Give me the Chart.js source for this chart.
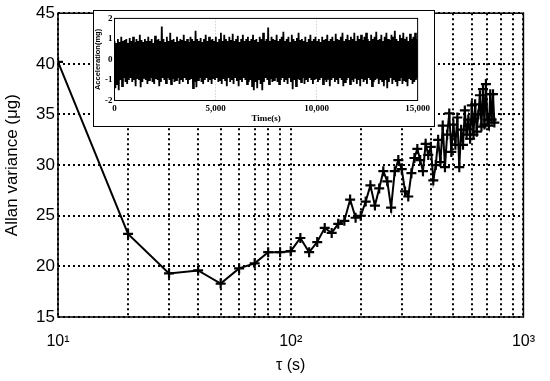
<!DOCTYPE html>
<html>
<head>
<meta charset="utf-8">
<script src="https://cdn.jsdelivr.net/npm/chart.js@4.4.0/dist/chart.umd.min.js"></script>
<style>
    html, body { margin: 0; padding: 0; background: #fff; }
    #wrap { position: relative; width: 550px; height: 381px; }
    #main { position: absolute; left: 0; top: 0; }
    #inset { position: absolute; left: 93px; top: 10px; width: 342px; height: 117px; background: #fff; border: 1.5px solid #000; box-sizing: border-box; }
    #insetChart { position: absolute; left: 0; top: 0; }
</style>
</head>
<body>
<div id="wrap">
    <canvas id="main" width="550" height="381"></canvas>
    <div id="inset"><canvas id="insetChart" width="339" height="114"></canvas></div>
</div>
<script>
// ---- datos principales (Allan variance) ----
const tau = [10, 20, 30, 40, 50, 60, 70, 80, 90, 100,
    110, 120, 130, 140, 150, 160, 170, 180, 190, 200,
    210, 220, 230, 240, 250, 260, 270, 280, 290, 300,
    310, 320, 330, 340, 350, 360, 370, 380, 390, 400,
    410, 420, 430, 440, 450, 460, 470, 480, 490, 500,
    510, 520, 530, 540, 550, 560, 570, 580, 590, 600,
    610, 620, 630, 640, 650, 660, 670, 680, 690, 700,
    710, 720, 730, 740, 750];
const allan = [40.2, 23.2, 19.3, 19.6, 18.3, 19.8, 20.3, 21.4, 21.4, 21.5,
    22.8, 21.4, 22.4, 23.8, 23.3, 24.2, 24.5, 26.6, 24.8, 25.0,
    26.4, 28.0, 26.0, 27.7, 29.4, 28.4, 25.8, 29.4, 30.5, 29.6,
    27.4, 26.9, 29.2, 30.7, 31.6, 30.5, 29.4, 32.1, 31.0, 31.8,
    28.5, 30.0, 32.5, 30.3, 33.9, 29.8, 33.0, 35.1, 31.3, 34.0,
    32.0, 34.7, 29.8, 33.5, 32.0, 35.4, 33.0, 34.5, 32.6, 35.9,
    33.0, 36.0, 33.3, 35.0, 36.9, 33.8, 37.5, 34.0, 38.0, 34.5,
    33.9, 37.0, 34.5, 37.0, 34.2];
const xTicks = [10, 20, 30, 40, 50, 60, 70, 80, 90, 100, 200, 300, 400, 500, 600, 700, 800, 900, 1000];
const xTickLabels = { 10: '10¹', 100: '10²', 1000: '10³' };
const yTicks = [15, 20, 25, 30, 35, 40, 45];

// ---- datos del recuadro (señal de aceleración, picos y valles) ----
const accelPeaks = [
    0.9, 0.8, 1.0, 0.85, 1.1, 0.9, 0.95, 1.0, 0.8, 1.05, 0.9, 1.1, 0.85, 1.0, 0.9, 1.2, 0.95, 0.85, 1.0, 0.9,
    1.1, 0.9, 1.0, 0.8, 1.15, 0.95, 1.0, 0.9, 1.6, 1.0, 0.85, 1.1, 0.9, 1.3, 0.95, 1.0, 0.85, 1.1, 0.9, 1.0,
    0.95, 1.2, 0.9, 1.0, 0.85, 1.1, 1.0, 0.9, 1.4, 1.0, 0.9, 1.05, 0.85, 1.0, 1.2, 0.9, 1.1, 0.95, 1.0, 0.9,
    1.1, 0.85, 1.0, 1.3, 0.9, 1.2, 1.0, 0.9, 1.1, 0.95, 1.25, 0.9, 1.0, 1.15, 0.85, 1.0, 1.2, 0.9, 1.0, 1.1,
    0.9, 1.0, 1.2, 0.95, 1.0, 0.85, 1.1, 1.0, 1.3, 0.9, 1.0, 1.55, 0.9, 1.1, 1.0, 0.95, 1.2, 0.9, 1.0, 1.1,
    1.35, 0.9, 1.0, 1.1, 0.85, 1.2, 1.0, 0.9, 1.05, 1.3, 0.95, 1.0, 0.9, 1.1, 0.85, 1.0, 1.2, 0.9, 1.0, 1.1,
    0.9, 1.0, 0.85, 1.1, 0.95, 1.0, 1.2, 0.9, 1.0, 1.1, 0.9, 1.25, 1.0, 0.95, 1.1, 1.3, 0.9, 1.0, 1.2, 0.95,
    1.1, 1.0, 1.3, 0.9, 1.15, 1.0, 1.2, 0.95, 1.1, 1.3, 1.0, 0.9, 1.2, 1.0, 1.1, 1.35, 0.95, 1.0, 1.2, 0.9,
    1.1, 1.3, 1.0, 0.95, 1.2, 1.1, 1.4, 1.0, 0.9, 1.2, 1.05, 1.3, 1.0, 1.1, 0.9, 1.25, 1.0, 1.1, 1.3, 1.0];
const accelTroughs = [
    -1.4, -1.2, -1.5, -1.0, -1.3, -0.9, -1.1, -1.2, -1.0, -0.9, -1.1, -1.0, -1.3, -0.95, -1.0, -1.35, -1.1, -0.9, -1.0, -1.2,
    -1.0, -0.9, -1.1, -1.2, -0.95, -1.0, -1.3, -1.1, -0.9, -1.0, -1.15, -0.9, -1.0, -1.2, -0.95, -1.1, -1.0, -0.9, -1.2, -1.0,
    -1.1, -0.9, -1.0, -1.2, -1.0, -0.95, -1.4, -1.1, -1.35, -1.0, -0.9, -1.1, -1.2, -1.0, -0.9, -1.1, -1.0, -1.2, -0.95, -1.0,
    -0.9, -1.1, -1.0, -1.2, -0.95, -1.0, -1.3, -0.9, -1.1, -1.0, -1.2, -0.9, -1.05, -1.3, -1.0, -1.1, -0.9, -1.0, -1.2, -1.1,
    -1.0, -1.3, -1.5, -1.1, -1.4, -1.0, -1.2, -1.5, -1.1, -0.9, -1.0, -1.2, -0.95, -1.1, -1.0, -0.9, -1.1, -1.2, -1.0, -0.9,
    -1.1, -1.0, -1.2, -0.9, -1.1, -1.45, -1.0, -1.3, -0.95, -1.0, -1.1, -0.9, -1.2, -1.0, -1.1, -0.9, -1.0, -1.2, -1.0, -0.95,
    -1.1, -1.0, -0.9, -1.2, -1.0, -1.1, -0.95, -1.3, -1.0, -0.9, -1.1, -1.0, -1.2, -0.9, -1.0, -1.3, -1.1, -1.0, -0.9, -1.2,
    -1.0, -1.1, -0.9, -1.2, -1.0, -1.3, -0.95, -1.1, -1.0, -1.2, -0.9, -1.0, -1.3, -1.1, -1.0, -0.9, -1.2, -1.0, -1.1, -1.3,
    -1.0, -1.4, -1.1, -0.9, -1.2, -1.0, -1.1, -1.3, -1.0, -0.9, -1.2, -1.0, -1.1, -1.3, -0.95, -1.0, -1.2, -1.1, -1.0, -0.9];
const timeTicks = [0, 5000, 10000, 15000];
const accelTicks = [-2, -1, 0, 1, 2];
const timeMax = 15000;

// marco negro alrededor del area de trazado
const marco = {
    id: 'marco',
    afterDraw(chart, args, opts) {
        const { ctx, chartArea: a } = chart;
        ctx.save();
        ctx.strokeStyle = '#000';
        ctx.lineWidth = opts.width || 1.5;
        ctx.strokeRect(a.left, a.top, a.right - a.left, a.bottom - a.top);
        ctx.restore();
    }
};

(() => {
    cargarPrincipal();
    cargarRecuadro();
})();

function cargarPrincipal() {
    const puntos = tau.map((t, i) => ({ x: t, y: allan[i] }));
    new Chart(document.getElementById('main'), {
        type: 'line',
        data: {
            datasets: [{
                data: puntos,
                borderColor: '#000',
                borderWidth: 2,
                pointStyle: 'cross',
                pointRadius: 5,
                pointBorderWidth: 2.2,
                pointBorderColor: '#000',
                tension: 0
            }]
        },
        options: {
            responsive: false,
            animation: false,
            layout: { padding: { top: 10, right: 15, left: 0, bottom: 0 } },
            plugins: { legend: { display: false }, tooltip: { enabled: false }, marco: { width: 1.5 } },
            scales: {
                x: {
                    type: 'logarithmic',
                    min: 10, max: 1000,
                    afterBuildTicks: s => { s.ticks = xTicks.map(v => ({ value: v })); },
                    afterFit: s => { s.height = 64; },
                    ticks: {
                        autoSkip: false, maxRotation: 0, padding: 15, color: '#000',
                        font: { family: 'Liberation Sans', size: 16 },
                        callback: v => xTickLabels[v] || ''
                    },
                    grid: { color: '#000', lineWidth: 2, drawTicks: false },
                    border: { display: false, dash: [2, 3] },
                    title: { display: true, text: 'τ (s)', color: '#000', font: { family: 'Liberation Sans', size: 16 }, padding: { top: 0, bottom: 6 } }
                },
                y: {
                    min: 15, max: 45,
                    afterBuildTicks: s => { s.ticks = yTicks.map(v => ({ value: v })); },
                    afterFit: s => { s.width = 58; },
                    ticks: { padding: 3, color: '#000', font: { family: 'Liberation Sans', size: 17 } },
                    grid: { color: '#000', lineWidth: 2, drawTicks: false },
                    border: { display: false, dash: [2, 3] },
                    title: { display: true, text: 'Allan variance (μg)', color: '#000', font: { family: 'Liberation Sans', size: 17 }, padding: { top: 2, bottom: 0 } }
                }
            }
        },
        plugins: [marco]
    });
}

function cargarRecuadro() {
    var senal = [];
    for (let i = 0; i < accelPeaks.length; i++) {
        senal.push(accelPeaks[i]);
        senal.push(accelTroughs[i]);
    }
    const dt = timeMax / (senal.length - 1);
    const puntos = senal.map((v, i) => ({ x: i * dt, y: v }));
    const fuente = { family: 'Liberation Serif', size: 9, weight: 'bold' };

    new Chart(document.getElementById('insetChart'), {
        type: 'line',
        data: {
            datasets: [{
                data: puntos,
                borderColor: '#000',
                borderWidth: 1.8,
                pointRadius: 0,
                tension: 0
            }]
        },
        options: {
            responsive: false,
            animation: false,
            layout: { padding: { top: 4.5, right: 8.5, left: 0, bottom: 0 } },
            plugins: { legend: { display: false }, tooltip: { enabled: false }, marco: { width: 1 } },
            scales: {
                x: {
                    type: 'linear',
                    min: 0, max: timeMax,
                    afterBuildTicks: s => { s.ticks = timeTicks.map(v => ({ value: v })); },
                    afterFit: s => { s.height = 24.5; },
                    ticks: {
                        autoSkip: false, maxRotation: 0, padding: 3, color: '#000', font: fuente,
                        callback: v => v.toLocaleString('en-US')
                    },
                    grid: { color: '#bbb', lineWidth: 1, drawTicks: false },
                    border: { display: false, dash: [1, 2] },
                    title: { display: true, text: 'Time(s)', color: '#000', font: fuente, padding: { top: 0, bottom: 1 } }
                },
                y: {
                    min: -2, max: 2,
                    afterBuildTicks: s => { s.ticks = accelTicks.map(v => ({ value: v })); },
                    afterFit: s => { s.width = 20.5; },
                    ticks: { padding: 2, color: '#000', font: fuente },
                    grid: { display: false, drawTicks: false },
                    border: { display: false },
                    title: { display: true, text: 'Acceleration(mg)', color: '#000', font: { family: 'Liberation Sans', size: 7.5, weight: 'bold', lineHeight: 1 }, padding: 0 }
                }
            }
        },
        plugins: [marco]
    });
}
</script>
</body>
</html>
